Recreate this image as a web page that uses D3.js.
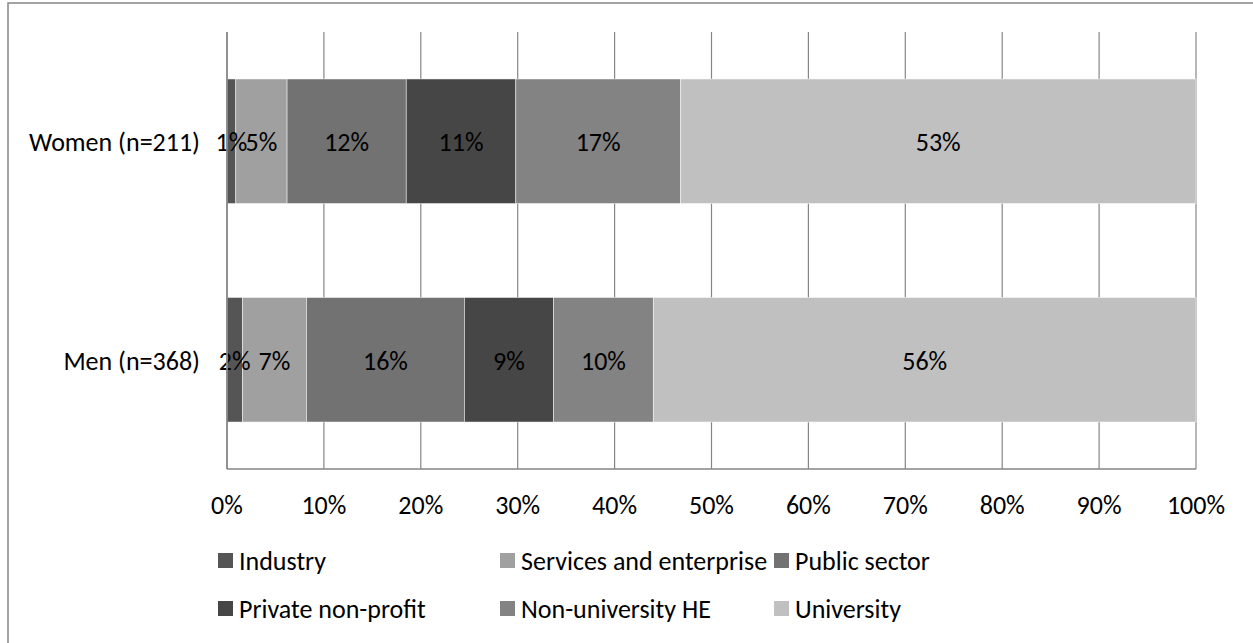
<!DOCTYPE html>
<html>
<head>
<meta charset="utf-8">
<script src="https://cdn.jsdelivr.net/npm/d3@7"></script>
<style>
  html, body { margin: 0; padding: 0; background: #fff; }
  svg { display: block; }
  text { font-family: Carlito, Calibri, Lato, "Open Sans", sans-serif; fill: #000; }
</style>
</head>
<body>
<svg id="chart" width="1253" height="643"></svg>
<script>
const categories = ["Women (n=211)", "Men (n=368)"];
const seriesNames = ["Industry", "Services and enterprise", "Public sector", "Private non-profit", "Non-university HE", "University"];
const women = [0.9, 5.3, 12.3, 11.3, 17.0, 53.2];
const men   = [1.6, 6.6, 16.3, 9.2, 10.3, 56.0];
const seriesColors = ["#555555", "#a0a0a0", "#727272", "#464646", "#838383", "#c0c0c0"];
const tickValues = [0, 10, 20, 30, 40, 50, 60, 70, 80, 90, 100];

const svg = d3.select("#chart");
const FS = 26;

// chart area border
svg.append("rect")
  .attr("x", 8).attr("y", 3).attr("width", 1400).attr("height", 800)
  .attr("fill", "#fff").attr("stroke", "#868686").attr("stroke-width", 1.5);

const x = d3.scaleLinear().domain([0, 100]).range([227, 1196]);
const y = d3.scaleBand().domain(categories).range([32, 469]).paddingInner(0.43).paddingOuter(0.215);

// gridlines
svg.append("g").selectAll("line").data(tickValues.slice(1)).join("line")
  .attr("x1", d => x(d)).attr("x2", d => x(d))
  .attr("y1", 32).attr("y2", 469)
  .attr("stroke", "#868686").attr("stroke-width", 1.2);

// stacked data
const rows = categories.map((c, i) => {
  const vals = i === 0 ? women : men;
  let acc = 0;
  return vals.map((v, j) => { const s = { cat: c, key: j, x0: acc, x1: acc + v, v: v }; acc += v; return s; });
});
const segs = rows.flat();

svg.append("g").selectAll("rect").data(segs).join("rect")
  .attr("x", d => x(d.x0)).attr("width", d => x(d.x1) - x(d.x0))
  .attr("y", d => y(d.cat)).attr("height", y.bandwidth())
  .attr("fill", d => seriesColors[d.key])
  .attr("stroke", "#ffffff").attr("stroke-opacity", 0.6).attr("stroke-width", 0.8);

svg.append("g").selectAll("text").data(segs).join("text")
  .attr("x", d => (x(d.x0) + x(d.x1)) / 2)
  .attr("y", d => y(d.cat) + y.bandwidth() / 2 + 1)
  .attr("text-anchor", "middle").attr("dominant-baseline", "central")
  .attr("font-size", FS)
  .text(d => Math.round(d.v) + "%");

// axes lines
svg.append("line").attr("x1", x(0)).attr("x2", x(0)).attr("y1", 32).attr("y2", 469)
  .attr("stroke", "#868686").attr("stroke-width", 1.8);
svg.append("line").attr("x1", x(0)).attr("x2", x(100)).attr("y1", 469).attr("y2", 469)
  .attr("stroke", "#868686").attr("stroke-width", 1.5);

// x tick labels
svg.append("g").selectAll("text").data(tickValues).join("text")
  .attr("x", d => x(d)).attr("y", 505)
  .attr("text-anchor", "middle").attr("dominant-baseline", "central")
  .attr("font-size", FS)
  .text(d => d + "%");

// category labels
svg.append("g").selectAll("text").data(categories).join("text")
  .attr("x", 200).attr("y", d => y(d) + y.bandwidth() / 2 + 1)
  .attr("text-anchor", "end").attr("dominant-baseline", "central")
  .attr("font-size", FS)
  .text(d => d);

// legend
const legX = [218, 500, 774];
const legY = [553, 601];
const leg = svg.append("g").selectAll("g").data(seriesNames).join("g")
  .attr("transform", (d, i) => `translate(${legX[i % 3]},${legY[Math.floor(i / 3)]})`);
leg.append("rect").attr("width", 15).attr("height", 15).attr("fill", (d, i) => seriesColors[i]);
leg.append("text").attr("x", 21).attr("y", 8).attr("dominant-baseline", "central")
  .attr("font-size", FS).text(d => d);
</script>
</body>
</html>
